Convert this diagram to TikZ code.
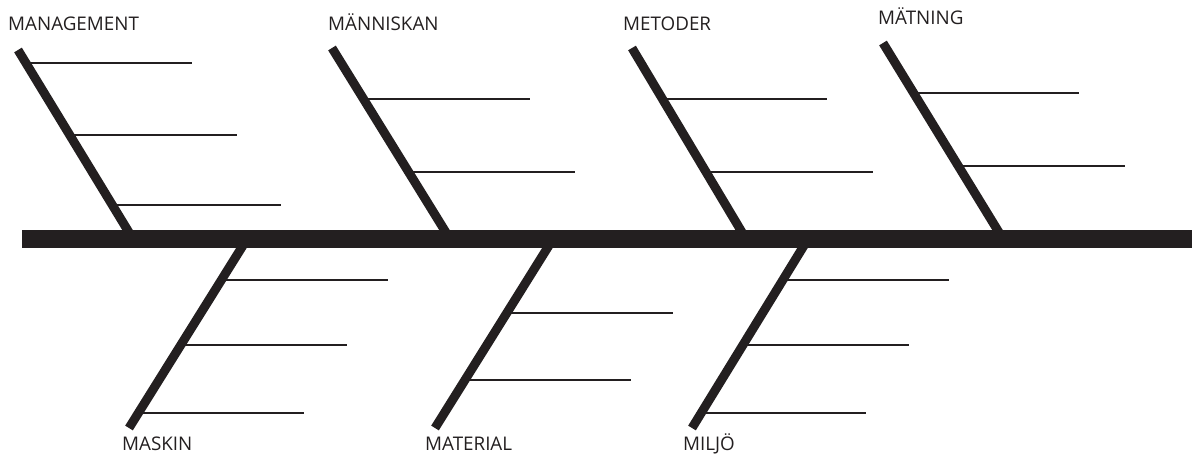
\documentclass[tikz,border=0pt]{standalone}
\usepackage{fontspec}
\setmainfont{Open Sans}
\usetikzlibrary{positioning}
\definecolor{ink}{RGB}{35,31,32}

\begin{document}
\begin{tikzpicture}[x=1pt, y=-1pt,
  spine/.style={draw=ink, line width=18pt},
  bone/.style={draw=ink, line width=9pt},
  rib/.style={draw=ink, line width=1.4pt},
  cause/.style={anchor=base west, inner sep=0pt, text=ink, font=\fontsize{18.8}{22}\selectfont}]
\useasboundingbox (0,0) rectangle (1192,454);
% spine
\coordinate (S0) at (22,239);
\coordinate (S1) at (1192,239);
% bone ends, upper side
\coordinate (B1t) at (18,50);   \coordinate (B1b) at (133,239);
\coordinate (B2t) at (332,48);  \coordinate (B2b) at (450,239);
\coordinate (B3t) at (632,48);  \coordinate (B3b) at (746,239);
\coordinate (B4t) at (883,43);  \coordinate (B4b) at (1003,239);
% bone ends, lower side
\coordinate (B5t) at (247,239); \coordinate (B5b) at (129,428);
\coordinate (B6t) at (553,239); \coordinate (B6b) at (435,428);
\coordinate (B7t) at (808,239); \coordinate (B7b) at (692,428);
% rib ends
\coordinate (R11a) at (26,63);   \coordinate (R11b) at (192,63);
\coordinate (R12a) at (70,135);  \coordinate (R12b) at (237,135);
\coordinate (R13a) at (112,205); \coordinate (R13b) at (281,205);
\coordinate (R21a) at (364,99);  \coordinate (R21b) at (530,99);
\coordinate (R22a) at (409,172); \coordinate (R22b) at (575,172);
\coordinate (R31a) at (662,99);  \coordinate (R31b) at (827,99);
\coordinate (R32a) at (706,172); \coordinate (R32b) at (873,172);
\coordinate (R41a) at (914,93);  \coordinate (R41b) at (1079,93);
\coordinate (R42a) at (958,166); \coordinate (R42b) at (1125,166);
\coordinate (R51a) at (221,280); \coordinate (R51b) at (388,280);
\coordinate (R52a) at (181,345); \coordinate (R52b) at (347,345);
\coordinate (R53a) at (138,413); \coordinate (R53b) at (304,413);
\coordinate (R61a) at (507,313); \coordinate (R61b) at (673,313);
\coordinate (R62a) at (465,380); \coordinate (R62b) at (631,380);
\coordinate (R71a) at (783,280); \coordinate (R71b) at (949,280);
\coordinate (R72a) at (743,345); \coordinate (R72b) at (909,345);
\coordinate (R73a) at (701,413); \coordinate (R73b) at (866,413);

\draw[rib] (R11a) -- (R11b);
\draw[rib] (R12a) -- (R12b);
\draw[rib] (R13a) -- (R13b);
\draw[rib] (R21a) -- (R21b);
\draw[rib] (R22a) -- (R22b);
\draw[rib] (R31a) -- (R31b);
\draw[rib] (R32a) -- (R32b);
\draw[rib] (R41a) -- (R41b);
\draw[rib] (R42a) -- (R42b);
\draw[rib] (R51a) -- (R51b);
\draw[rib] (R52a) -- (R52b);
\draw[rib] (R53a) -- (R53b);
\draw[rib] (R61a) -- (R61b);
\draw[rib] (R62a) -- (R62b);
\draw[rib] (R71a) -- (R71b);
\draw[rib] (R72a) -- (R72b);
\draw[rib] (R73a) -- (R73b);

\draw[bone] (B1t) -- (B1b);
\draw[bone] (B2t) -- (B2b);
\draw[bone] (B3t) -- (B3b);
\draw[bone] (B4t) -- (B4b);
\draw[bone] (B5t) -- (B5b);
\draw[bone] (B6t) -- (B6b);
\draw[bone] (B7t) -- (B7b);

\draw[spine] (S0) -- (S1);

\node[cause] (management) at (8,31) {MANAGEMENT};
\node[cause] (manniskan) at (328,31) {MÄNNISKAN};
\node[cause] (metoder) at (623,31) {METODER};
\node[cause] (matning) at (878,25) {MÄTNING};
\node[cause] (maskin) at (122,450) {MASKIN};
\node[cause] (material) at (425,450) {MATERIAL};
\node[cause] (miljo) at (683,450) {MILJÖ};

\end{tikzpicture}
\end{document}
